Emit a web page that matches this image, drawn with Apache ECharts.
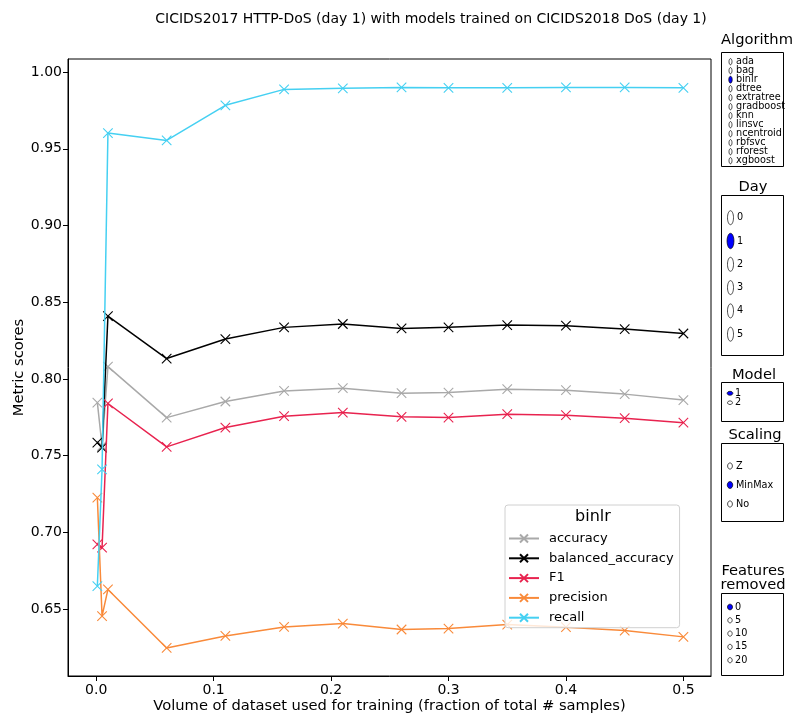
<!DOCTYPE html>
<html><head><meta charset="utf-8">
<script src="https://cdn.jsdelivr.net/npm/echarts@6/dist/echarts.min.js"></script>
<style>html,body{margin:0;padding:0;background:#fff}#c{width:793px;height:713px}</style>
</head><body><div id="c"></div>
<script>
// ---- data ----
const xValues = [0.001, 0.005, 0.01, 0.06, 0.11, 0.16, 0.21, 0.26, 0.30, 0.35, 0.40, 0.45, 0.50];
const accuracy = [0.7846, 0.7563, 0.808, 0.7748, 0.7853, 0.7922, 0.794, 0.7907, 0.7911, 0.7933, 0.7927, 0.7901, 0.7862];
const balancedAccuracy = [0.7585, 0.7552, 0.841, 0.8133, 0.826, 0.8336, 0.8358, 0.8329, 0.8336, 0.8351, 0.8347, 0.8325, 0.8296];
const f1 = [0.6922, 0.690, 0.784, 0.7557, 0.7683, 0.7757, 0.7781, 0.7753, 0.7748, 0.777, 0.7764, 0.7744, 0.7715];
const precision = [0.7226, 0.6454, 0.6628, 0.6247, 0.6325, 0.6384, 0.6406, 0.6367, 0.6373, 0.6399, 0.6382, 0.636, 0.6319];
const recall = [0.665, 0.7411, 0.9602, 0.9554, 0.9783, 0.9887, 0.9894, 0.990, 0.9897, 0.9897, 0.990, 0.990, 0.9897];
const seriesNames = ['accuracy', 'balanced_accuracy', 'F1', 'precision', 'recall'];
const xTicks = [0, 0.1, 0.2, 0.3, 0.4, 0.5];
const yTicks = [0.65, 0.70, 0.75, 0.80, 0.85, 0.90, 0.95, 1.00];

const algorithms = ['ada', 'bag', 'binlr', 'dtree', 'extratree', 'gradboost', 'knn', 'linsvc', 'ncentroid', 'rbfsvc', 'rforest', 'xgboost'];
const days = ['0', '1', '2', '3', '4', '5'];
const models = ['1', '2'];
const scalings = ['Z', 'MinMax', 'No'];
const featuresRemoved = ['0', '5', '10', '15', '20'];

const FONT = 'DejaVu Sans';
const colors = ['#a9a9a9', '#000000', '#e8234f', '#f98a3a', '#45d0f2'];
const seriesData = [accuracy, balancedAccuracy, f1, precision, recall];
const X_SYMBOL = 'path://M0,0L10,10M10,0L0,10';

const series = seriesNames.map((name, i) => ({
  name: name,
  type: 'line',
  data: xValues.map((x, j) => [x, seriesData[i][j]]),
  symbol: X_SYMBOL,
  symbolSize: 9.5,
  showSymbol: true,
  animation: false,
  lineStyle: { color: colors[i], width: 1.5 },
  itemStyle: { color: 'none', borderColor: colors[i], borderWidth: 1.1 },
  z: 2 + i
}));

// ---- right-hand radio panels ----
const graphics = [];
function panel(titleLines, titleX, titleY, box, items, selected, y0, step, ex, rx, ry, tx) {
  titleLines.forEach((t, k) => {
    graphics.push({ type: 'text', x: titleX, y: titleY + k * 14, style: { text: t, font: '14.7px "' + FONT + '"', fill: '#000', textAlign: 'center', textVerticalAlign: 'middle' } });
  });
  graphics.push({ type: 'rect', shape: { x: box[0], y: box[1], width: box[2], height: box[3] }, style: { fill: '#fff', stroke: '#000', lineWidth: 1 } });
  items.forEach((it, k) => {
    const y = y0 + k * step;
    const sel = it === selected;
    graphics.push({ type: 'ellipse', shape: { cx: ex, cy: y, rx: sel ? rx * 1.15 : rx, ry: sel ? ry * 1.1 : ry }, style: { fill: sel ? '#0000ff' : '#fff', stroke: '#000', lineWidth: 0.7 } });
    graphics.push({ type: 'text', x: tx, y: y, style: { text: it, font: '9.7px "' + FONT + '"', fill: '#000', textVerticalAlign: 'middle' } });
  });
}
panel(['Algorithm'], 757, 40, [721.5, 52.5, 62, 114], algorithms, 'binlr', 61.7, 9, 730.5, 1.5, 3.1, 736);
panel(['Day'], 753, 187, [721.5, 195.5, 62, 160], days, '1', 217.7, 23.3, 730.5, 3, 7, 737);
panel(['Model'], 754, 375, [721.5, 382.5, 62, 39], models, '1', 393.3, 9.4, 730, 2.5, 1.8, 735);
panel(['Scaling'], 755, 435, [721.5, 443.5, 62, 78], scalings, 'MinMax', 466, 19, 730, 2.4, 3.1, 736);
panel(['Features', 'removed'], 753, 571.5, [721.5, 593.5, 62, 82], featuresRemoved, '0', 607, 13.3, 730, 2.2, 2.6, 735);

// legend title
graphics.push({ type: 'text', x: 593, y: 517, z: 100, style: { text: 'binlr', font: '16px "' + FONT + '"', fill: '#000', textAlign: 'center', textVerticalAlign: 'middle' } });

const chart = echarts.init(document.getElementById('c'), null, { renderer: 'canvas' });
chart.setOption({
  animation: false,
  backgroundColor: '#fff',
  textStyle: { fontFamily: FONT },
  title: {
    text: 'CICIDS2017 HTTP-DoS (day 1) with models trained on CICIDS2018 DoS (day 1)',
    left: 426, top: 7, textAlign: 'center',
    textStyle: { fontFamily: FONT, fontSize: 14, fontWeight: 'normal', color: '#000' }
  },
  grid: { left: 68, right: 82, top: 59, bottom: 37, show: true, borderColor: '#000', borderWidth: 1, containLabel: false, outerBoundsMode: 'none' },
  legend: {
    data: seriesNames,
    orient: 'vertical',
    left: 505, top: 505,
    padding: [26.5, 6, 3, 3],
    itemWidth: 30, itemHeight: 10, itemGap: 5.8,
    backgroundColor: 'rgba(255,255,255,0.8)',
    borderColor: '#d0d0d0', borderWidth: 1, borderRadius: 3,
    textStyle: { fontFamily: FONT, fontSize: 13, color: '#000', lineHeight: 14, padding: [0, 0, 0, 5] },
    z: 50
  },
  xAxis: {
    type: 'value', min: -0.024, max: 0.5235,
    name: 'Volume of dataset used for training (fraction of total # samples)',
    nameLocation: 'middle', nameGap: 22.5, nameMoveOverlap: false,
    nameTextStyle: { fontFamily: FONT, fontSize: 14.7, color: '#000' },
    axisLine: { show: true, onZero: false, lineStyle: { color: '#000', width: 1 } },
    axisTick: { show: true, length: 5, lineStyle: { color: '#000' }, customValues: xTicks },
    axisLabel: { customValues: xTicks, formatter: v => v.toFixed(1), fontFamily: FONT, fontSize: 14, color: '#000', margin: 7 },
    splitLine: { show: false }
  },
  yAxis: {
    type: 'value', min: 0.6064, max: 1.0085,
    name: 'Metric scores',
    nameLocation: 'middle', nameGap: 41, nameRotate: 90, nameMoveOverlap: false,
    nameTextStyle: { fontFamily: FONT, fontSize: 14.7, color: '#000' },
    axisLine: { show: true, onZero: false, lineStyle: { color: '#000', width: 1 } },
    axisTick: { show: true, length: 5, lineStyle: { color: '#000' }, customValues: yTicks },
    axisLabel: { customValues: yTicks, formatter: v => v.toFixed(2), fontFamily: FONT, fontSize: 14, color: '#000', margin: 6 },
    splitLine: { show: false }
  },
  graphic: graphics,
  series: series
});
</script>
</body></html>
